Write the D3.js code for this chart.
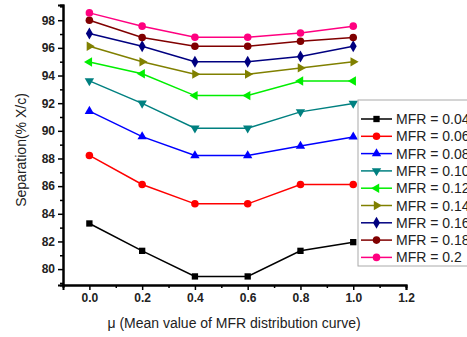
<!DOCTYPE html>
<html>
<head>
<meta charset="utf-8">
<script src="https://cdn.jsdelivr.net/npm/d3@7"></script>
<style>
  html, body { margin: 0; padding: 0; background: #fff; }
  svg { display: block; }
</style>
</head>
<body>
<svg id="chart" width="467" height="337"></svg>
<script>
const xValues = [0.0, 0.2, 0.4, 0.6, 0.8, 1.0];
const seriesNames = ["MFR = 0.04", "MFR = 0.06", "MFR = 0.08", "MFR = 0.10", "MFR = 0.12", "MFR = 0.14", "MFR = 0.16", "MFR = 0.18", "MFR = 0.2"];
const mfr004 = [83.3, 81.32, 79.47, 79.47, 81.32, 81.95];
const mfr006 = [88.22, 86.12, 84.72, 84.72, 86.12, 86.12];
const mfr008 = [91.42, 89.58, 88.21, 88.21, 88.9, 89.56];
const mfr010 = [93.61, 91.99, 90.19, 90.19, 91.37, 91.98];
const mfr012 = [94.98, 94.13, 92.55, 92.55, 93.6, 93.6];
const mfr014 = [96.12, 94.99, 94.1, 94.1, 94.55, 94.99];
const mfr016 = [97.04, 96.12, 95.0, 95.0, 95.37, 96.12];
const mfr018 = [98.0, 96.75, 96.12, 96.12, 96.48, 96.75];
const mfr020 = [98.53, 97.57, 96.77, 96.77, 97.08, 97.57];
const seriesValues = [mfr004, mfr006, mfr008, mfr010, mfr012, mfr014, mfr016, mfr018, mfr020];
const colors = ["#000000", "#ff0000", "#0000ff", "#008080", "#00ee00", "#808000", "#000080", "#800000", "#ff0080"];
const markers = ["square", "circle", "up", "down", "left", "right", "diamond", "circle", "circle"];
const xTickLabels = ["0.0", "0.2", "0.4", "0.6", "0.8", "1.0", "1.2"];
const yTickLabels = ["80", "82", "84", "86", "88", "90", "92", "94", "96", "98"];

const svg = d3.select("#chart");
const x = d3.scaleLinear().domain([-0.1, 1.2]).range([63, 406]);
const y = d3.scaleLinear().domain([78.85, 99.1]).range([285, 5]);
const font = "'Liberation Sans', Arial, sans-serif";

// axes
const xAxis = d3.axisBottom(x).tickValues(xTickLabels.map(Number)).tickFormat((d, i) => xTickLabels[i]).tickSize(5).tickPadding(3);
const xMinor = d3.axisBottom(x).tickValues([0.1, 0.3, 0.5, 0.7, 0.9, 1.1]).tickFormat("").tickSize(3);
const yAxis = d3.axisLeft(y).tickValues(yTickLabels.map(Number)).tickFormat((d, i) => yTickLabels[i]).tickSize(5).tickPadding(3);
const yMinor = d3.axisLeft(y).tickValues([79, 81, 83, 85, 87, 89, 91, 93, 95, 97, 99]).tickFormat("").tickSize(3);

function styleAxis(g) {
  g.select(".domain").attr("stroke", "#000").attr("stroke-width", 2);
  g.selectAll(".tick line").attr("stroke", "#000").attr("stroke-width", 1.5);
  g.selectAll("text").attr("font-family", font).attr("font-size", 12).attr("font-weight", "bold").attr("fill", "#222");
}
svg.append("g").attr("transform", "translate(0,285)").call(xMinor).call(styleAxis);
svg.append("g").attr("transform", "translate(0,285)").call(xAxis).call(styleAxis);
svg.append("g").attr("transform", "translate(63,0)").call(yMinor).call(styleAxis);
svg.append("g").attr("transform", "translate(63,0)").call(yAxis).call(styleAxis);

// titles
svg.append("text").attr("x", 234).attr("y", 328).attr("text-anchor", "middle")
  .attr("font-family", font).attr("font-size", 14).attr("fill", "#222")
  .text("μ (Mean value of MFR distribution curve)");
svg.append("text").attr("transform", "translate(26,150) rotate(-90)").attr("text-anchor", "middle")
  .attr("font-family", font).attr("font-size", 14).attr("fill", "#222")
  .text("Separation(% X/c)");

function markerPath(type) {
  const tri = d3.symbol().type(d3.symbolTriangle).size(38)();
  switch (type) {
    case "square": return { d: d3.symbol().type(d3.symbolSquare).size(40)(), rot: 0 };
    case "circle": return { d: d3.symbol().type(d3.symbolCircle).size(45)(), rot: 0 };
    case "up": return { d: tri, rot: 0 };
    case "down": return { d: tri, rot: 180 };
    case "left": return { d: tri, rot: -90 };
    case "right": return { d: tri, rot: 90 };
    case "diamond": return { d: d3.symbol().type(d3.symbolDiamond).size(42)(), rot: 0 };
  }
}

const line = d3.line().x((d, i) => x(xValues[i])).y(d => y(d));
seriesValues.forEach((vals, s) => {
  const g = svg.append("g");
  g.append("path").attr("d", line(vals)).attr("fill", "none").attr("stroke", colors[s]).attr("stroke-width", 1.5);
  const m = markerPath(markers[s]);
  g.selectAll("path.pt").data(vals).enter().append("path").attr("class", "pt")
    .attr("d", m.d).attr("fill", colors[s])
    .attr("transform", (d, i) => `translate(${x(xValues[i])},${y(d)}) rotate(${m.rot})`);
});

// legend
const lg = svg.append("g");
lg.append("rect").attr("x", 358).attr("y", 100).attr("width", 130).attr("height", 166)
  .attr("fill", "#fff").attr("stroke", "#aaa").attr("stroke-width", 1);
seriesNames.forEach((name, s) => {
  const cy = 119 + s * 17.3;
  lg.append("line").attr("x1", 361).attr("x2", 392).attr("y1", cy).attr("y2", cy)
    .attr("stroke", colors[s]).attr("stroke-width", 1.5);
  const m = markerPath(markers[s]);
  lg.append("path").attr("d", m.d).attr("fill", colors[s])
    .attr("transform", `translate(376.5,${cy}) rotate(${m.rot})`);
  lg.append("text").attr("x", 396).attr("y", cy + 5).attr("font-family", font).attr("font-size", 14)
    .attr("fill", "#222").text(name);
});
</script>
</body>
</html>
